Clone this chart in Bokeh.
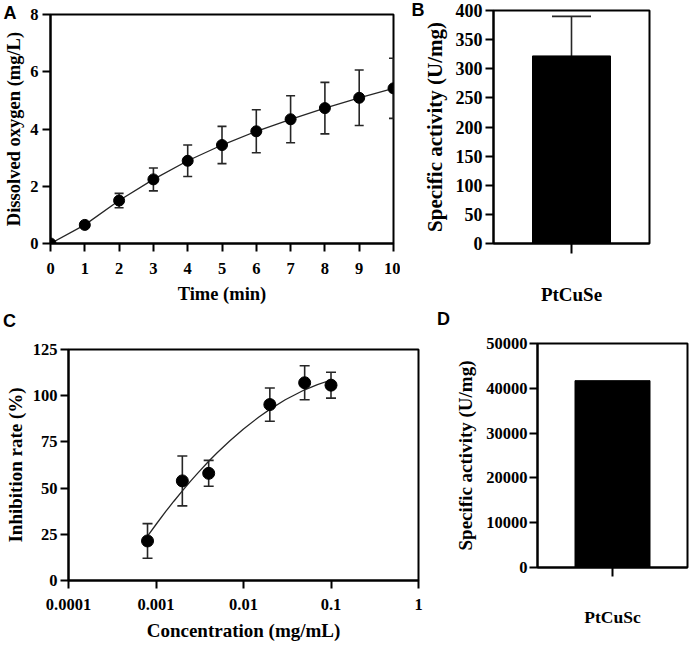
from bokeh.plotting import figure
from bokeh.layouts import row, column
from bokeh.models import (Range1d, FactorRange, FixedTicker, Whisker, TeeHead,
                          ColumnDataSource, PrintfTickFormatter)
from bokeh.embed import file_html
from bokeh.resources import INLINE

# ---------------- data ----------------
# Panel A: dissolved oxygen vs time
a_time = [0, 1, 2, 3, 4, 5, 6, 7, 8, 9, 10]
a_oxygen = [0.0, 0.65, 1.50, 2.24, 2.89, 3.44, 3.92, 4.34, 4.73, 5.09, 5.42]
a_err = [0.0, 0.05, 0.25, 0.40, 0.55, 0.65, 0.75, 0.82, 0.90, 0.97, 1.05]
a_xticks = [0, 1, 2, 3, 4, 5, 6, 7, 8, 9, 10]
a_yticks = [0, 2, 4, 6, 8]

# Panel B: specific activity
b_cat = ["PtCuSe"]
b_val = [322]
b_err = [68]
b_yticks = [0, 50, 100, 150, 200, 250, 300, 350, 400]

# Panel C: inhibition rate vs concentration
c_conc = [0.0008, 0.002, 0.004, 0.02, 0.05, 0.1]
c_inhib = [21.4, 53.9, 58.0, 95.2, 107.0, 105.7]
c_err = [9.4, 13.5, 7.0, 9.0, 9.2, 7.0]
c_fit_x = [0.0008, 0.001, 0.0013, 0.0016, 0.002, 0.0025, 0.003, 0.004, 0.005,
           0.007, 0.01, 0.015, 0.02, 0.03, 0.05, 0.07, 0.1]
c_fit_y = [24.0, 30.3, 37.5, 42.9, 48.5, 53.9, 58.1, 64.5, 69.1,
           75.6, 82.0, 88.5, 92.6, 97.8, 103.2, 106.0, 108.5]
c_xticks = [0.0001, 0.001, 0.01, 0.1, 1]
c_yticks = [0, 25, 50, 75, 100, 125]

# Panel D: specific activity
d_cat = ["PtCuSc"]
d_val = [41700]
d_yticks = [0, 10000, 20000, 30000, 40000, 50000]

SERIF = "Liberation Serif"
SANS = "Liberation Sans"
LINE = "#262626"
ERRW = 1.6


def style(p, tick_px, title_px, xstand=6, ystand=4, xlab_stand=8, ylab_stand=6):
    p.toolbar_location = None
    p.background_fill_color = "white"
    p.border_fill_color = "white"
    p.outline_line_color = "black"
    p.outline_line_width = 2
    p.outline_line_alpha = 1
    p.xgrid.visible = False
    p.ygrid.visible = False
    for ax in p.xaxis + p.yaxis:
        ax.axis_line_color = "black"
        ax.axis_line_width = 2
        ax.major_tick_line_color = "black"
        ax.major_tick_line_width = 2
        ax.major_tick_in = 0
        ax.major_tick_out = 8
        ax.minor_tick_line_color = None
        ax.major_label_text_font = SERIF
        ax.major_label_text_font_style = "bold"
        ax.major_label_text_font_size = f"{tick_px}px"
        ax.major_label_text_color = "black"
        ax.axis_label_text_font = SERIF
        ax.axis_label_text_font_style = "bold"
        ax.axis_label_text_font_size = f"{title_px}px"
        ax.axis_label_text_color = "black"
    p.xaxis.major_label_standoff = xstand
    p.yaxis.major_label_standoff = ystand
    p.xaxis.axis_label_standoff = xlab_stand
    p.yaxis.axis_label_standoff = ylab_stand


def letter(p, text, offset, standoff):
    t = p.title
    t.text = text
    t.align = "left"
    t.offset = offset
    t.standoff = standoff
    t.text_font = SANS
    t.text_font_style = "bold"
    t.text_font_size = "18px"
    t.text_color = "black"


def whisker(src, head=10, lower_head=True):
    return Whisker(source=src, base="x", lower="lo", upper="hi", dimension="height",
                   line_color=LINE, line_width=ERRW,
                   upper_head=TeeHead(size=head, line_color=LINE, line_width=ERRW),
                   lower_head=TeeHead(size=head, line_color=LINE, line_width=ERRW)
                   if lower_head else None)


ROW1 = 310
ROW2 = 335

# ---------------- Panel A ----------------
pa = figure(width=400, height=ROW1, output_backend="svg", toolbar_location=None,
            x_range=Range1d(0, 10), y_range=Range1d(0, 8),
            min_border_left=50, min_border_right=7, min_border_top=14,
            min_border_bottom=ROW1 - 243)
srcA = ColumnDataSource(dict(x=a_time, y=a_oxygen,
                             lo=[v - e for v, e in zip(a_oxygen, a_err)],
                             hi=[v + e for v, e in zip(a_oxygen, a_err)]))
pa.line("x", "y", source=srcA, line_color=LINE, line_width=1.3)
pa.add_layout(whisker(srcA, head=9))
pa.scatter("x", "y", source=srcA, size=11, color="black")
pa.xaxis.ticker = FixedTicker(ticks=a_xticks, minor_ticks=[])
pa.yaxis.ticker = FixedTicker(ticks=a_yticks, minor_ticks=[])
pa.xaxis.axis_label = "Time (min)"
pa.yaxis.axis_label = "Dissolved oxygen (mg/L)"
style(pa, 16.5, 18.5, xstand=11, ystand=4, xlab_stand=7, ylab_stand=3)
letter(pa, "A", -47, -16)

# ---------------- Panel B ----------------
pb = figure(width=292, height=ROW1, output_backend="svg", toolbar_location=None,
            x_range=FactorRange(factors=b_cat), y_range=Range1d(0, 400),
            min_border_left=93, min_border_right=43, min_border_top=10,
            min_border_bottom=ROW1 - 243)
srcB = ColumnDataSource(dict(x=b_cat, lo=b_val, top=b_val,
                             hi=[v + e for v, e in zip(b_val, b_err)]))
pb.add_layout(whisker(srcB, head=39, lower_head=False))
pb.vbar(x="x", top="top", width=0.5, source=srcB, fill_color="black", line_color="black")
pb.yaxis.ticker = FixedTicker(ticks=b_yticks, minor_ticks=[])
pb.yaxis.axis_label = "Specific activity (U/mg)"
style(pb, 18, 21, xstand=30, ystand=3, ylab_stand=6)
pb.xaxis.major_label_text_font_size = "19px"
pb.xaxis.major_tick_out = 10
letter(pb, "B", -82, -18)

# ---------------- Panel C ----------------
pc = figure(width=430, height=ROW2, output_backend="svg", toolbar_location=None,
            x_axis_type="log", x_range=Range1d(0.0001, 1), y_range=Range1d(0, 125),
            min_border_left=68, min_border_right=12, min_border_top=347 - ROW1,
            min_border_bottom=65)
srcC = ColumnDataSource(dict(x=c_conc, y=c_inhib,
                             lo=[v - e for v, e in zip(c_inhib, c_err)],
                             hi=[v + e for v, e in zip(c_inhib, c_err)]))
pc.line(c_fit_x, c_fit_y, line_color=LINE, line_width=1.3)
pc.add_layout(whisker(srcC, head=10))
pc.scatter("x", "y", source=srcC, size=12, color="black")
pc.xaxis.ticker = FixedTicker(ticks=c_xticks, minor_ticks=[])
pc.xaxis.formatter = PrintfTickFormatter(format="%g")
pc.yaxis.ticker = FixedTicker(ticks=c_yticks, minor_ticks=[])
pc.xaxis.axis_label = "Concentration (mg/mL)"
pc.yaxis.axis_label = "Inhibition rate (%)"
style(pc, 16.5, 19, xstand=10, ystand=3, xlab_stand=7, ylab_stand=4)
letter(pc, "C\n", -65.5, -3)

# ---------------- Panel D ----------------
pd_ = figure(width=262, height=ROW2, output_backend="svg", toolbar_location=None,
             x_range=FactorRange(factors=d_cat), y_range=Range1d(0, 50000),
             min_border_left=107, min_border_right=5, min_border_top=343 - ROW1,
             min_border_bottom=78)
srcD = ColumnDataSource(dict(x=d_cat, top=d_val))
pd_.vbar(x="x", top="top", width=0.5, source=srcD, fill_color="black", line_color="black")
pd_.yaxis.ticker = FixedTicker(ticks=d_yticks, minor_ticks=[])
pd_.yaxis.axis_label = "Specific activity (U/mg)"
style(pd_, 16.5, 19, xstand=30, ystand=2, ylab_stand=7)
pd_.xaxis.major_label_text_font_size = "17.5px"
pd_.xaxis.major_tick_out = 9
letter(pd_, "D\n", -100.5, -11.5)

layout = column(row(pa, column(pb)), row(pc, column(pd_)),
                styles={"position": "absolute", "left": "0px", "top": "0px"})

open("out.html", "w").write(file_html(layout, INLINE))
